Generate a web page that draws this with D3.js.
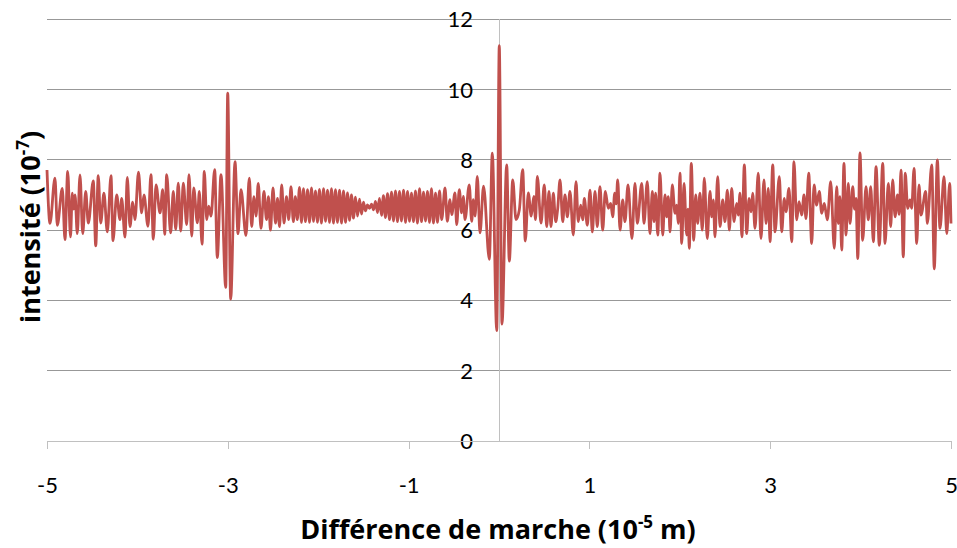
<!DOCTYPE html>
<html><head><meta charset="utf-8">
<script src="https://cdn.jsdelivr.net/npm/d3@7"></script>
<style>body{margin:0;background:#fff}</style>
</head><body><svg id="chart" width="957" height="548"></svg>
<script>
// Path difference (10^-5 m) at each extremum
const pathDiff = [
-5.000,-4.967,-4.912,-4.886,-4.831,-4.801,-4.771,-4.740,-4.720,-4.705,-4.690,-4.665,-4.635,-4.605,-4.572,-4.543,
-4.488,-4.461,-4.433,-4.406,-4.370,-4.333,-4.292,-4.270,-4.229,-4.193,-4.174,-4.137,-4.112,-4.082,-4.052,-4.027,
-3.988,-3.953,-3.927,-3.883,-3.850,-3.824,-3.794,-3.750,-3.720,-3.698,-3.676,-3.632,-3.603,-3.576,-3.548,-3.521,
-3.492,-3.455,-3.429,-3.399,-3.377,-3.337,-3.315,-3.285,-3.260,-3.233,-3.211,-3.186,-3.145,-3.116,-3.075,-3.023,
-3.001,-2.968,-2.920,-2.887,-2.854,-2.799,-2.762,-2.736,-2.710,-2.688,-2.663,-2.633,-2.600,-2.572,-2.550,-2.528,
-2.500,-2.472,-2.450,-2.428,-2.404,-2.378,-2.351,-2.326,-2.301,-2.275,-2.253,-2.231,-2.207,
-2.185,-2.163,-2.141,-2.118,-2.096,-2.074,-2.052,-2.030,-2.008,-1.986,-1.964,-1.941,-1.919,-1.897,-1.875,-1.853,
-1.831,-1.809,-1.787,-1.764,-1.742,-1.720,-1.698,-1.676,-1.654,-1.632,-1.610,-1.587,-1.565,-1.543,-1.521,-1.499,
-1.477,-1.455,-1.433,-1.410,-1.388,-1.366,-1.344,-1.322,-1.300,-1.278,-1.256,-1.233,-1.211,-1.189,-1.167,-1.145,
-1.123,-1.101,-1.079,-1.056,-1.034,-1.012,-0.990,-0.968,-0.946,-0.924,-0.902,-0.879,-0.857,-0.835,-0.813,-0.791,
-0.769,-0.747,-0.725,-0.702,-0.680,-0.658,
-0.634,-0.597,-0.572,-0.542,-0.523,-0.487,-0.468,-0.439,-0.413,-0.395,-0.376,-0.329,-0.302,-0.284,-0.265,-0.240,
-0.210,-0.171,-0.107,-0.074,-0.025,0.003,0.033,0.085,0.114,0.152,0.188,0.225,0.262,0.291,0.324,0.357,
0.385,0.404,0.424,0.465,0.501,0.528,0.553,0.575,0.601,0.627,0.649,0.675,0.705,0.730,0.756,0.785,
0.822,0.852,0.877,0.904,0.926,0.944,0.977,1.007,1.032,1.062,1.087,1.117,1.147,1.176,1.209,1.236,
1.258,1.280,1.296,1.313,1.339,1.368,1.394,1.427,1.471,1.504,1.530,1.579,1.604,1.640,1.670,1.696,
1.715,1.733,1.756,1.781,1.811,1.836,1.855,1.873,1.892,1.917,1.947,1.966,1.983,2.002,2.021,2.047,
2.076,2.091,2.105,2.127,2.154,2.176,2.198,2.223,2.249,2.271,2.304,2.334,2.353,2.371,2.389,2.419,
2.445,2.475,2.500,2.526,2.548,2.574,2.600,2.629,2.647,2.666,2.687,2.714,2.740,2.766,2.788,2.806,
2.832,2.868,2.898,2.931,2.954,2.979,2.998,3.028,3.053,3.101,3.127,3.156,3.175,3.208,3.238,3.263,
3.293,3.319,3.348,3.374,3.396,3.426,3.459,3.485,3.514,3.543,3.570,3.598,3.632,3.669,3.709,3.736,
3.753,3.772,3.791,3.816,3.839,3.864,3.883,3.913,3.933,3.949,3.969,3.993,4.023,4.060,4.085,4.112,
4.141,4.171,4.207,4.245,4.270,4.307,4.333,4.355,4.381,4.408,4.427,4.447,4.472,4.494,4.521,4.546,
4.565,4.591,4.621,4.646,4.668,4.720,4.738,4.787,4.815,4.849,4.878,4.923,4.953,4.985,5.000
];
// Intensity (10^-7) at those points
const intensity = [
7.71,6.19,7.48,6.14,7.19,5.73,7.67,5.81,7.05,6.60,7.00,5.90,7.57,5.90,7.10,6.20,
7.40,5.55,7.55,6.20,7.05,5.95,7.55,5.70,7.00,6.30,6.90,5.80,7.50,6.10,6.80,6.30,
7.65,6.49,7.00,6.11,7.58,5.74,7.29,6.49,7.15,5.88,7.58,5.92,7.10,6.02,7.34,5.97,
7.34,6.16,7.58,5.83,7.20,6.21,7.10,5.60,7.67,6.30,6.68,6.40,7.72,5.22,7.58,4.37,
9.90,4.04,7.95,5.90,7.15,5.85,7.48,6.10,6.95,6.40,7.33,6.05,7.10,6.30,6.95,6.00,
7.20,6.20,6.90,6.10,7.29,6.20,6.95,6.30,7.24,6.24,6.95,6.30,7.22,
6.22,7.18,6.24,7.15,6.22,7.20,6.25,7.12,6.22,7.16,6.20,7.18,6.25,7.14,6.22,7.18,
6.20,7.15,6.22,7.14,6.20,7.12,6.22,7.06,6.28,7.00,6.34,6.94,6.40,6.88,6.46,6.80,
6.55,6.72,6.62,6.74,6.58,6.82,6.50,6.90,6.42,6.98,6.36,7.04,6.30,7.08,6.26,7.12,
6.24,7.10,6.26,7.14,6.22,7.10,6.25,7.05,6.24,7.12,6.20,7.18,6.24,7.08,6.26,7.10,
6.22,7.18,6.20,7.05,6.22,7.12,
6.30,7.20,6.25,6.87,6.44,7.06,6.16,7.15,6.49,6.96,6.30,7.29,6.25,6.87,6.40,7.53,
5.92,7.25,5.17,8.19,3.14,11.25,3.33,7.86,5.12,7.43,6.30,6.58,7.72,5.69,7.06,6.40,
6.96,6.30,7.53,6.20,7.29,6.10,7.10,6.10,7.05,6.24,6.60,7.43,6.24,7.00,6.38,7.10,
5.86,7.38,6.24,6.71,6.29,6.90,6.14,7.14,5.95,7.10,6.10,7.24,6.00,7.10,6.62,6.76,
6.38,7.05,6.75,7.43,6.00,6.86,6.24,7.29,5.76,7.33,6.19,7.33,6.19,7.38,5.90,7.10,
6.24,7.05,5.86,7.62,5.86,7.00,6.38,6.95,5.95,7.29,6.48,6.71,6.19,7.62,5.62,7.33,
5.86,6.60,5.48,7.90,5.71,7.00,6.19,7.05,6.00,7.48,5.76,7.10,6.38,6.86,5.81,7.52,
6.10,6.86,6.24,7.14,6.00,7.19,6.24,6.76,6.43,7.05,5.81,7.86,5.90,6.90,6.52,7.05,
6.05,7.62,5.76,7.43,6.19,7.19,5.67,7.86,5.95,7.52,5.95,6.90,6.52,7.19,5.67,7.95,
6.29,6.81,6.43,7.00,6.33,7.62,5.62,7.29,6.71,7.10,6.48,6.76,6.29,7.38,5.48,7.24,
6.19,6.95,5.43,7.90,5.86,7.33,6.19,7.24,6.60,6.90,5.19,8.20,5.71,7.24,6.29,7.24,
5.67,7.81,5.57,7.90,5.62,7.33,6.10,7.43,6.38,7.00,6.45,7.71,5.24,7.62,6.62,6.86,
6.62,7.76,5.62,7.29,6.43,7.10,6.19,7.86,4.90,8.00,6.05,7.52,5.90,7.33,6.19
];
const xTickValues = [-5, -3, -1, 1, 3, 5];
const yTickValues = [0, 2, 4, 6, 8, 10, 12];
const xTitle = ["Différence de marche (10", "-5", " m)"];
const yTitle = ["intensité (10", "-7", ")"];

const svg = d3.select("#chart");
const x = d3.scaleLinear().domain([-5, 5]).range([47, 951]);
const y = d3.scaleLinear().domain([0, 12]).range([441, 19.3]);
const labelFont = "Lato, 'Open Sans', sans-serif";
const titleFont = "'Open Sans', Lato, sans-serif";

// gridlines
svg.append("g").selectAll("line").data(yTickValues.filter(d => d > 0)).join("line")
  .attr("x1", x(-5)).attr("x2", x(5))
  .attr("y1", d => y(d)).attr("y2", d => y(d))
  .attr("stroke", "#989898").attr("stroke-width", 1).attr("shape-rendering", "crispEdges");

// vertical axis line at x = 0
svg.append("line").attr("x1", x(0)).attr("x2", x(0)).attr("y1", y(0)).attr("y2", y(12))
  .attr("stroke", "#c0c0c0").attr("stroke-width", 1).attr("shape-rendering", "crispEdges");

// y tick labels
svg.append("g").selectAll("text").data(yTickValues).join("text")
  .attr("x", x(0) - 26).attr("y", d => y(d)).attr("dy", "0.36em")
  .attr("text-anchor", "end").style("font-family", labelFont).style("font-size", "22px").attr("fill", "#000")
  .text(d => String(d));

// x axis
const xAxis = svg.append("g").attr("transform", `translate(0,${y(0)})`)
  .call(d3.axisBottom(x).tickValues(xTickValues).tickSize(8).tickPadding(0).tickFormat(d => String(d)));
xAxis.select(".domain").attr("stroke", "#c0c0c0").attr("shape-rendering", "crispEdges");
xAxis.selectAll(".tick line").attr("stroke", "#c0c0c0").attr("shape-rendering", "crispEdges");
xAxis.selectAll(".tick text").attr("y", 52).attr("dy", 0).attr("fill", "#000")
  .style("font-size", "22px").style("font-family", labelFont);

// data line
const pts = pathDiff.map((d, i) => [d, intensity[i]]);
svg.append("path").datum(pts)
  .attr("fill", "none").attr("stroke", "#C0504D").attr("stroke-width", 2.8)
  .attr("stroke-linejoin", "round")
  .attr("d", d3.line().x(d => x(d[0])).y(d => y(d[1])).curve(d3.curveMonotoneX));

// x title
const xt = svg.append("text").attr("x", 498).attr("y", 539).attr("text-anchor", "middle")
  .style("font-family", titleFont).style("font-size", "27px").style("font-weight", "bold").attr("fill", "#000");
xt.append("tspan").text(xTitle[0]);
xt.append("tspan").attr("dy", -11).style("font-size", "17px").text(xTitle[1]);
xt.append("tspan").attr("dy", 11).text(xTitle[2]);

// y title
const yt = svg.append("text").attr("transform", "translate(40,227) rotate(-90)")
  .attr("text-anchor", "middle").style("font-family", titleFont)
  .style("font-size", "27px").style("font-weight", "bold").attr("fill", "#000");
yt.append("tspan").text(yTitle[0]);
yt.append("tspan").attr("dy", -11).style("font-size", "17px").text(yTitle[1]);
yt.append("tspan").attr("dy", 11).text(yTitle[2]);
</script>
</body></html>
